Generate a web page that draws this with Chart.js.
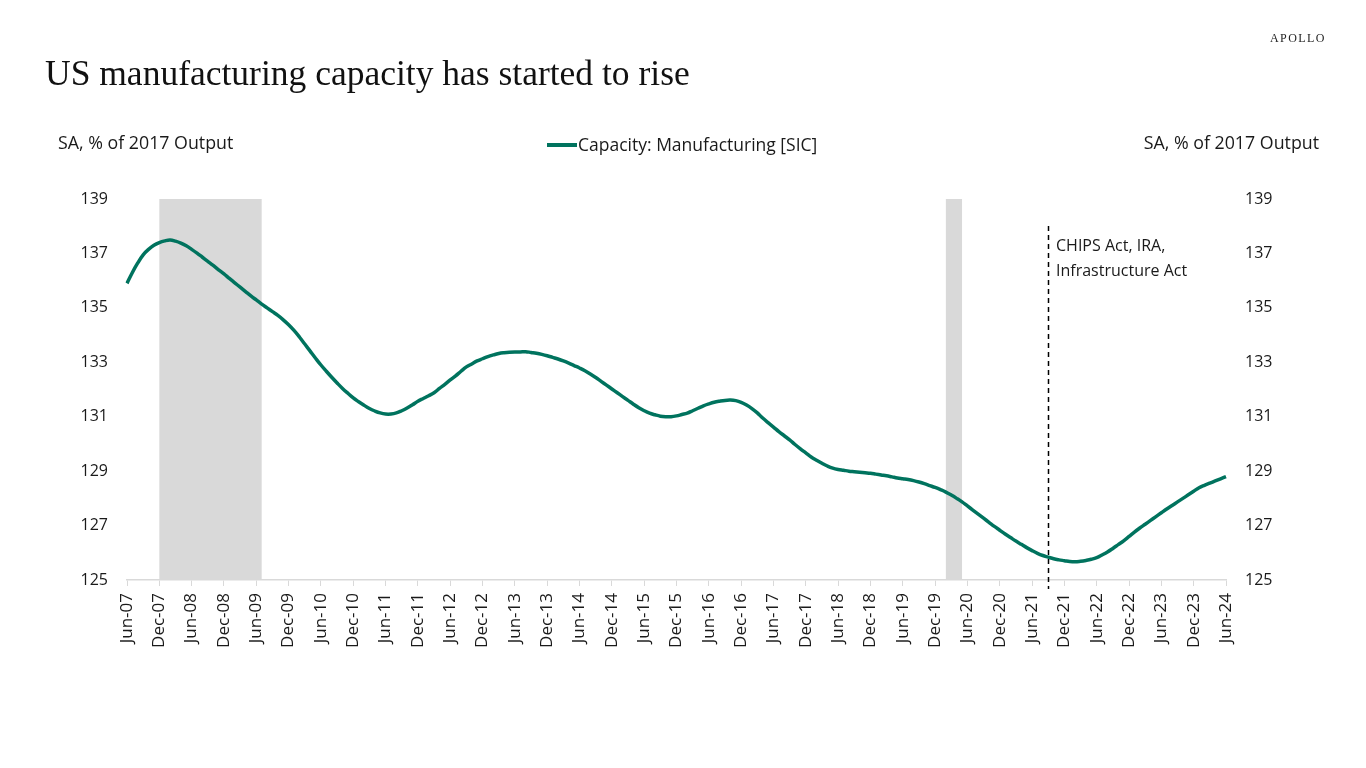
<!DOCTYPE html>
<html>
<head>
<meta charset="utf-8">
<script src="https://cdn.jsdelivr.net/npm/chart.js@4.4.1/dist/chart.umd.min.js"></script>
<style>
  html, body { margin: 0; padding: 0; background: #fff; }
  #wrap { position: relative; width: 1366px; height: 768px; overflow: hidden; font-family: "Open Sans", "Noto Sans", sans-serif; color: #1a1a1a; }
  #chart { position: absolute; left: 0; top: 0; }
  .txt { position: absolute; white-space: nowrap; }
  #title { left: 45px; top: 52px; font-family: "Liberation Serif", "DejaVu Serif", serif; font-size: 35.5px; color: #111; }
  #logo { left: 1270px; top: 31px; font-family: "Liberation Serif", serif; font-size: 12px; letter-spacing: 1.4px; color: #222; }
  #ylab-left { left: 58px; top: 130px; font-size: 17.8px; }
  #ylab-right { right: 47px; top: 130px; font-size: 17.8px; }
  #legend { left: 547px; top: 132px; font-size: 17.5px; }
  #legend .swatch { display: inline-block; width: 30px; height: 4px; background: #00735e; vertical-align: middle; margin-right: 1px; position: relative; top: -1px; }
  #note { left: 1056px; top: 233px; font-size: 16px; line-height: 25px; }
</style>
</head>
<body>
<div id="wrap">
  <canvas id="chart" width="1366" height="768"></canvas>
  <div class="txt" id="title">US manufacturing capacity has started to rise</div>
  <div class="txt" id="logo">APOLLO</div>
  <div class="txt" id="ylab-left">SA, % of 2017 Output</div>
  <div class="txt" id="ylab-right">SA, % of 2017 Output</div>
  <div class="txt" id="legend"><span class="swatch"></span>Capacity: Manufacturing [SIC]</div>
  <div class="txt" id="note">CHIPS Act, IRA,<br>Infrastructure Act</div>
</div>
<script>
// Monthly capacity, Jun-07 .. Jun-24
const capacity = [
  // Jun-07 .. Dec-07
  135.90, 136.30, 136.65, 136.95, 137.15, 137.30, 137.40,
  // 2008
  137.46, 137.49, 137.45, 137.38, 137.28, 137.15, 137.01, 136.86, 136.71, 136.56, 136.40, 136.25,
  // 2009
  136.08, 135.92, 135.76, 135.60, 135.44, 135.29, 135.14, 135.00, 134.86, 134.72, 134.56, 134.38,
  // 2010
  134.17, 133.93, 133.67, 133.41, 133.15, 132.90, 132.67, 132.45, 132.24, 132.04, 131.86, 131.69,
  // 2011
  131.55, 131.42, 131.30, 131.21, 131.14, 131.10, 131.10, 131.14, 131.22, 131.32, 131.44, 131.57,
  // 2012
  131.67, 131.77, 131.88, 132.04, 132.19, 132.35, 132.50, 132.67, 132.83, 132.94, 133.05, 133.13,
  // 2013
  133.21, 133.27, 133.32, 133.35, 133.37, 133.38, 133.38, 133.39, 133.36, 133.33, 133.29, 133.24,
  // 2014
  133.18, 133.12, 133.05, 132.97, 132.88, 132.79, 132.69, 132.57, 132.44, 132.30, 132.16, 132.02,
  // 2015
  131.88, 131.74, 131.60, 131.46, 131.33, 131.22, 131.13, 131.07, 131.02, 131.00, 131.00, 131.03,
  // 2016
  131.08, 131.13, 131.22, 131.31, 131.40, 131.47, 131.53, 131.57, 131.60, 131.61, 131.59, 131.53,
  // 2017
  131.43, 131.30, 131.14, 130.95, 130.78, 130.62, 130.45, 130.30, 130.15, 129.98, 129.82, 129.67,
  // 2018
  129.52, 129.40, 129.29, 129.19, 129.11, 129.06, 129.03, 129.00, 128.98, 128.96, 128.94, 128.92,
  // 2019
  128.89, 128.86, 128.83, 128.79, 128.75, 128.72, 128.69, 128.65, 128.60, 128.54, 128.47, 128.40,
  // 2020
  128.32, 128.23, 128.12, 128.00, 127.87, 127.72, 127.57, 127.42, 127.27, 127.12, 126.97, 126.83,
  // 2021
  126.69, 126.56, 126.43, 126.31, 126.19, 126.08, 125.98, 125.90, 125.84, 125.78, 125.74, 125.71,
  // 2022
  125.68, 125.67, 125.69, 125.72, 125.76, 125.82, 125.92, 126.03, 126.16, 126.30, 126.44, 126.60,
  // 2023
  126.76, 126.91, 127.05, 127.19, 127.33, 127.47, 127.61, 127.74, 127.87, 128.00, 128.13, 128.26,
  // Jan-24 .. Jun-24
  128.39, 128.48, 128.56, 128.64, 128.72, 128.80
];

const yTicks = [125, 127, 129, 131, 133, 135, 137, 139];
const recessionStarts = ['Dec-07', 'Feb-20'];
const recessionEnds = ['Jul-09', 'May-20'];
const policyMonth = 'Sep-21';

const monthNames = ['Jan', 'Feb', 'Mar', 'Apr', 'May', 'Jun', 'Jul', 'Aug', 'Sep', 'Oct', 'Nov', 'Dec'];
const months = capacity.map((_, i) => {
  const m = (5 + i) % 12;
  const yr = 2007 + Math.floor((5 + i) / 12);
  return `${monthNames[m]}-${String(yr).slice(2)}`;
});

const GREEN = '#00735e';
const AXIS_GREY = '#d9d9d9';

// recession bars + policy line, drawn behind the series
const backdrop = {
  id: 'backdrop',
  beforeDatasetsDraw(chart) {
    const { ctx, chartArea, scales } = chart;
    ctx.save();
    ctx.fillStyle = '#d9d9d9';
    recessionStarts.forEach((start, i) => {
      const x0 = scales.x.getPixelForValue(months.indexOf(start));
      const x1 = scales.x.getPixelForValue(months.indexOf(recessionEnds[i]));
      ctx.fillRect(x0, chartArea.top, x1 - x0, chartArea.bottom - chartArea.top);
    });
    const px = Math.round(scales.x.getPixelForValue(months.indexOf(policyMonth))) + 0.5;
    ctx.strokeStyle = '#000';
    ctx.lineWidth = 1.5;
    ctx.setLineDash([5, 4]);
    ctx.beginPath();
    ctx.moveTo(px, chartArea.top + 27);
    ctx.lineTo(px, chartArea.bottom + 9);
    ctx.stroke();
    ctx.restore();
  }
};

const tickFont = { family: '"Open Sans", "Noto Sans", sans-serif', size: 16 };

new Chart(document.getElementById('chart'), {
  type: 'line',
  data: {
    labels: months,
    datasets: [{
      label: 'Capacity: Manufacturing [SIC]',
      data: capacity,
      borderColor: GREEN,
      borderWidth: 3.5,
      pointRadius: 0,
      tension: 0.4,
      fill: false
    }]
  },
  options: {
    responsive: false,
    animation: false,
    layout: { padding: { top: 199, left: 0, right: 0, bottom: 0 } },
    plugins: {
      legend: { display: false },
      tooltip: { enabled: false }
    },
    scales: {
      x: {
        type: 'category',
        offset: false,
        border: { display: true, color: AXIS_GREY, width: 1.5 },
        grid: {
          drawOnChartArea: false,
          drawTicks: true,
          tickLength: 6,
          color: ctx => (ctx.index % 6 === 0 ? AXIS_GREY : 'rgba(0,0,0,0)')
        },
        ticks: {
          autoSkip: false,
          minRotation: 90,
          maxRotation: 90,
          padding: 7,
          color: '#1a1a1a',
          font: { ...tickFont, size: 17 },
          callback: (value, index) => (index % 6 === 0 ? months[index] : '')
        },
        afterFit: scale => { scale.height = 188; }
      },
      y: {
        position: 'left',
        min: 125,
        max: 139,
        border: { display: false },
        grid: { display: false, drawTicks: false },
        afterBuildTicks: scale => { scale.ticks = yTicks.map(v => ({ value: v })); },
        ticks: { padding: 19, color: '#1a1a1a', font: tickFont },
        afterFit: scale => { scale.width = 127; }
      },
      y2: {
        position: 'right',
        min: 125,
        max: 139,
        border: { display: false },
        grid: { display: false, drawTicks: false },
        afterBuildTicks: scale => { scale.ticks = yTicks.map(v => ({ value: v })); },
        ticks: { padding: 19, color: '#1a1a1a', font: tickFont },
        afterFit: scale => { scale.width = 140; }
      }
    }
  },
  plugins: [backdrop]
});
</script>
</body>
</html>
